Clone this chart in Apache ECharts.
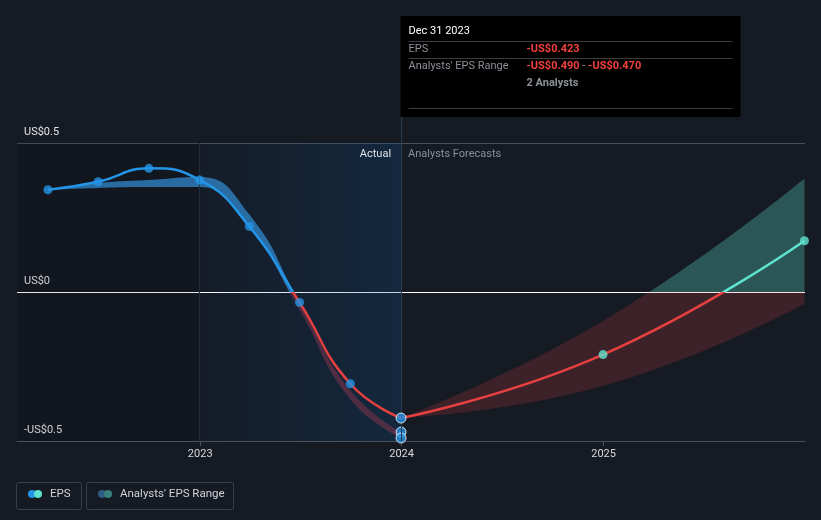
<!DOCTYPE html>
<html><head><meta charset="utf-8">
<script src="https://cdn.jsdelivr.net/npm/echarts@6/dist/echarts.min.js"></script>
<style>html,body{margin:0;padding:0;background:#151a23;}#c{width:821px;height:520px;}</style>
</head><body><div id="c"></div>
<script>
// ---- data ----
const actualDates = ['2022-03-31','2022-06-30','2022-09-30','2022-12-31','2023-03-31','2023-06-30','2023-09-30','2023-12-31'];
const actualEps   = [0.343, 0.370, 0.415, 0.376, 0.220, -0.035, -0.308, -0.423];
const histLow     = [0.343, 0.349, 0.352, 0.352, 0.215, -0.060, -0.360, -0.490];
const histHigh    = [0.343, 0.366, 0.376, 0.386, 0.260, -0.035, -0.330, -0.470];
const forecastDates = ['2023-12-31','2024-12-31','2025-12-31'];
const forecastEps   = [-0.423, -0.210, 0.172];
const forecastLow   = [-0.423, -0.315, -0.040];
const forecastHigh  = [-0.423, -0.097, 0.381];
const yTicks = [-0.5, 0, 0.5];
const yTickLabels = ['-US$0.5', 'US$0', 'US$0.5'];
const xTickYears = ['2023', '2024', '2025'];
const hoverDate = '2023-12-31';
const hoverLabel = 'Dec 31 2023';
const analystsCount = 2;

const BLUE = '#2394e6', RED = '#e5403f', TEAL = '#5ee3cf';
const chart = echarts.init(document.getElementById('c'), null, {renderer: 'canvas'});
const zip = (a, b) => a.map((d, i) => [d, b[i]]);
const diff = (hi, lo) => hi.map((v, i) => +(v - lo[i]).toFixed(4));
const fmt = v => (v < 0 ? '-US$' : 'US$') + Math.abs(v).toFixed(3);
const signPieces = (neg, pos) => [{gte: -5, lt: 0, color: neg}, {gte: 0, lte: 5, color: pos}];

const hoverIdx = actualDates.indexOf(hoverDate);
const actualPts = actualDates.map((d, i) => d === hoverDate
  ? {value: [d, actualEps[i]], itemStyle: {borderColor: '#fff', borderWidth: 1}, symbolSize: 10}
  : [d, actualEps[i]]);

const option = {
  backgroundColor: '#151a23',
  animation: false,
  textStyle: {fontFamily: 'Roboto, sans-serif'},
  grid: {left: 17, right: 16, top: 143, bottom: 79, containLabel: false},
  xAxis: {
    type: 'time', min: '2022-02-03', max: '2026-01-01',
    splitNumber: 4,
    axisLine: {onZero: false, lineStyle: {color: '#4b5059'}},
    axisTick: {show: true, length: 5, lineStyle: {color: '#4b5059'}},
    splitLine: {show: false},
    axisLabel: {
      color: '#d6d8dc', fontSize: 11, margin: 8, showMinLabel: false, showMaxLabel: false,
      formatter: function (v) {
        const d = new Date(v); const y = String(d.getFullYear());
        return (d.getMonth() === 0 && d.getDate() === 1 && xTickYears.indexOf(y) >= 0) ? y : '';
      }
    }
  },
  yAxis: {
    type: 'value', min: -0.5, max: 0.5, interval: 0.5,
    axisLine: {show: false}, axisTick: {show: false},
    splitLine: {lineStyle: {color: ['#4b5059', '#ffffff', '#4b5059'], width: 1}},
    axisLabel: {
      inside: true, margin: 7, verticalAlign: 'bottom', color: '#e2e4e8', fontSize: 11,
      padding: [0, 0, 5, 0],
      formatter: v => { const i = yTicks.indexOf(+(+v).toFixed(2)); return i >= 0 ? yTickLabels[i] : ''; }
    }
  },
  visualMap: [
    {type: 'piecewise', show: false, seriesIndex: 1, dimension: 1,
      pieces: signPieces('rgba(150,55,80,0.45)', 'rgba(48,135,205,0.75)')},
    {type: 'piecewise', show: false, seriesIndex: 3, dimension: 1,
      pieces: signPieces('rgba(230,65,65,0.19)', 'rgba(94,224,204,0.30)')},
    {type: 'piecewise', show: false, seriesIndex: 4, dimension: 1, pieces: signPieces(RED, BLUE)},
    {type: 'piecewise', show: false, seriesIndex: 5, dimension: 1, pieces: signPieces(RED, TEAL)}
  ],
  series: [
    {name: 'histLow', type: 'line', data: zip(actualDates, histLow), stack: 'hist', stackStrategy: 'all',
      smooth: true, symbol: 'none', lineStyle: {width: 0, opacity: 0}, silent: true, z: 2},
    {name: 'histBand', type: 'line', data: zip(actualDates, diff(histHigh, histLow)), stack: 'hist', stackStrategy: 'all',
      smooth: true, symbol: 'none', lineStyle: {width: 0, opacity: 0}, areaStyle: {opacity: 1}, silent: true, z: 2},
    {name: 'fcLow', type: 'line', data: zip(forecastDates, forecastLow), stack: 'fc', stackStrategy: 'all',
      smooth: true, symbol: 'none', lineStyle: {width: 0, opacity: 0}, silent: true, z: 2},
    {name: 'fcBand', type: 'line', data: zip(forecastDates, diff(forecastHigh, forecastLow)), stack: 'fc', stackStrategy: 'all',
      smooth: true, symbol: 'none', lineStyle: {width: 0, opacity: 0}, areaStyle: {opacity: 1}, silent: true, z: 2},
    {name: 'EPS', type: 'line', data: zip(actualDates, actualEps), smooth: true, symbol: 'none',
      lineStyle: {width: 2.5}, z: 3,
      markArea: {silent: true, data: [
        [{xAxis: '2022-02-03', itemStyle: {color: 'rgba(0,0,0,0.10)'}}, {xAxis: '2022-12-31'}],
        [{xAxis: '2022-12-31', name: 'Actual',
          itemStyle: {color: new echarts.graphic.LinearGradient(0, 0, 1, 0, [
            {offset: 0, color: 'rgba(15,80,140,0.04)'}, {offset: 1, color: 'rgba(15,80,140,0.26)'}])},
          label: {show: true, position: 'insideTopRight', color: '#e2e4e8', fontSize: 11, offset: [-5, 1]}},
         {xAxis: '2023-12-31'}],
        [{xAxis: '2023-12-31', name: 'Analysts Forecasts', itemStyle: {color: 'rgba(0,0,0,0)'},
          label: {show: true, position: 'insideTopLeft', color: '#8a8f98', fontSize: 11, offset: [2, 1]}},
         {xAxis: '2026-01-01'}]
      ]},
      markLine: {silent: true, symbol: 'none', label: {show: false}, data: [
        {xAxis: '2022-12-31', lineStyle: {color: '#1f2c3b', width: 1, type: 'solid'}},
        {xAxis: hoverDate, lineStyle: {color: '#2b3c4f', width: 1, type: 'solid'}}
      ]}
    },
    {name: 'EPS forecast', type: 'line', data: zip(forecastDates, forecastEps), smooth: true, symbol: 'none',
      lineStyle: {width: 2.5}, z: 3},
    {name: 'EPS points', type: 'scatter', data: actualPts, symbolSize: 9, itemStyle: {color: BLUE}, z: 5},
    {name: 'Forecast points', type: 'scatter', data: zip(forecastDates.slice(1), forecastEps.slice(1)),
      symbolSize: 9, itemStyle: {color: TEAL}, z: 5},
    {name: 'Range points', type: 'scatter',
      data: [[hoverDate, histHigh[hoverIdx]], [hoverDate, histLow[hoverIdx]]],
      symbolSize: 10, itemStyle: {color: BLUE, borderColor: '#fff', borderWidth: 1}, z: 4}
  ]
};
chart.setOption(option);

// tooltip-like box and legend drawn as graphics
const topPx = chart.convertToPixel({xAxisIndex: 0, yAxisIndex: 0}, [hoverDate, 0.5]);
const hx = Math.round(topPx[0]) + 0.5;
const lbl = {fill: '#8c9098', font: '11px Roboto, sans-serif', verticalAlign: 'middle'};
const red = {fill: '#f0403e', font: 'bold 11px Roboto, sans-serif', verticalAlign: 'middle'};
const sep = y => ({type: 'line', shape: {x1: hx + 7, y1: y, x2: hx + 331, y2: y}, style: {stroke: '#3c3c3c', lineWidth: 1}, silent: true});
chart.setOption({graphic: [
  {type: 'line', shape: {x1: hx, y1: 117, x2: hx, y2: topPx[1]}, style: {stroke: '#2b3c4f', lineWidth: 1}, silent: true},
  {type: 'rect', shape: {x: hx - 1, y: 16, width: 340, height: 101}, style: {fill: '#000'}, silent: true},
  {type: 'text', x: hx + 7, y: 31, style: {text: hoverLabel, fill: '#fff', font: '11px Roboto, sans-serif', verticalAlign: 'middle'}},
  sep(41.5),
  {type: 'text', x: hx + 7, y: 49.5, style: Object.assign({text: 'EPS'}, lbl)},
  {type: 'text', x: hx + 125, y: 49.5, style: Object.assign({text: fmt(actualEps[hoverIdx])}, red)},
  sep(58.5),
  {type: 'text', x: hx + 7, y: 66.5, style: Object.assign({text: "Analysts' EPS Range"}, lbl)},
  {type: 'text', x: hx + 125, y: 66.5, style: {
    text: '{r|' + fmt(histLow[hoverIdx]) + '}{g| - }{r|' + fmt(histHigh[hoverIdx]) + '}',
    verticalAlign: 'middle',
    rich: {r: {fill: '#f0403e', font: 'bold 11px Roboto, sans-serif'}, g: {fill: '#8c9098', font: '11px Roboto, sans-serif'}}}},
  {type: 'text', x: hx + 125, y: 83, style: {text: analystsCount + ' Analysts', fill: '#8c9098', font: 'bold 11px Roboto, sans-serif', verticalAlign: 'middle'}},
  sep(108.5),
  // legend
  {type: 'rect', shape: {x: 16.5, y: 482.5, width: 65, height: 27, r: 2}, style: {fill: 'none', stroke: '#3a404b', lineWidth: 1}, silent: true},
  {type: 'circle', shape: {cx: 32, cy: 494, r: 4}, style: {fill: BLUE}, silent: true},
  {type: 'circle', shape: {cx: 38, cy: 494, r: 4}, style: {fill: TEAL}, silent: true},
  {type: 'text', x: 50, y: 494, style: {text: 'EPS', fill: '#d0d3d8', font: '11.5px Roboto, sans-serif', verticalAlign: 'middle'}},
  {type: 'rect', shape: {x: 86.5, y: 482.5, width: 147, height: 27, r: 2}, style: {fill: 'none', stroke: '#3a404b', lineWidth: 1}, silent: true},
  {type: 'circle', shape: {cx: 102, cy: 494, r: 4}, style: {fill: '#2a5b85'}, silent: true},
  {type: 'circle', shape: {cx: 108, cy: 494, r: 4}, style: {fill: '#3b7f7c'}, silent: true},
  {type: 'text', x: 120, y: 494, style: {text: "Analysts' EPS Range", fill: '#d0d3d8', font: '11.5px Roboto, sans-serif', verticalAlign: 'middle'}}
]});
</script></body></html>
